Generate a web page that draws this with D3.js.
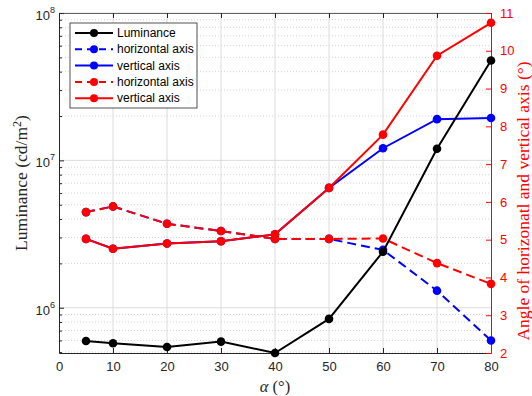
<!DOCTYPE html>
<html>
<head>
<meta charset="utf-8">
<script src="https://cdn.jsdelivr.net/npm/d3@7"></script>
<style>
  body { margin: 0; background: #fff; }
  text { font-family: "Liberation Sans", Arial, sans-serif; }
</style>
</head>
<body>
<script>
// data
const alpha = [5, 10, 20, 30, 40, 50, 60, 70, 80];
const luminance = [5.95e5, 5.74e5, 5.42e5, 5.89e5, 4.93e5, 8.4e5, 2.4e6, 1.2e7, 4.76e7];
const blueHorizontal = [5.73, 5.88, 5.42, 5.23, 5.02, 5.02, 4.73, 3.65, 2.33];
const blueVertical = [5.02, 4.76, 4.90, 4.96, 5.14, 6.37, 7.42, 8.19, 8.22];
const redHorizontal = [5.73, 5.88, 5.42, 5.23, 5.02, 5.02, 5.03, 4.38, 3.83];
const redVertical = [5.02, 4.76, 4.90, 4.96, 5.14, 6.37, 7.78, 9.87, 10.74];
const legendLabels = ["Luminance", "horizontal axis", "vertical axis", "horizontal axis", "vertical axis"];
const xTicks = [0, 10, 20, 30, 40, 50, 60, 70, 80];
const leftTicks = [1e6, 1e7, 1e8];
const rightTicks = [2, 3, 4, 5, 6, 7, 8, 9, 10, 11];

const canvWidth = 532, canvHeight = 396;
const margin = {top: 13, right: 41, bottom: 43, left: 59};
const width = canvWidth - margin.left - margin.right;
const height = canvHeight - margin.top - margin.bottom;
const axisColor = "#262626";

const svg = d3.select("body").append("svg")
    .attr("width", canvWidth)
    .attr("height", canvHeight);

const g = svg.append("g")
    .attr("transform", "translate(" + margin.left + "," + margin.top + ")");

// scales
const xScale = d3.scaleLinear().domain([0, 80]).range([0, width]);
const yLeft = d3.scaleLog().domain([4.93e5, 1e8]).range([height, 0]);
const yRight = d3.scaleLinear().domain([2, 11]).range([height, 0]);

// minor grid (log)
const minorTicks = [];
[1e5, 1e6, 1e7].forEach(dec => {
    for (let k = 2; k <= 9; k++) {
        const v = k * dec;
        if (v > yLeft.domain()[0] && v < 1e8) minorTicks.push(v);
    }
});
g.selectAll(".minor").data(minorTicks).enter().append("line")
    .attr("x1", 0).attr("x2", width)
    .attr("y1", d => yLeft(d)).attr("y2", d => yLeft(d))
    .attr("stroke", "#c8c8c8")
    .attr("stroke-width", 0.8)
    .attr("stroke-dasharray", "1,2");

// major grid
g.selectAll(".hgrid").data(leftTicks).enter().append("line")
    .attr("x1", 0).attr("x2", width)
    .attr("y1", d => yLeft(d)).attr("y2", d => yLeft(d))
    .attr("stroke", "#dcdcdc").attr("stroke-width", 1);
g.selectAll(".vgrid").data(xTicks.slice(1, -1)).enter().append("line")
    .attr("x1", d => xScale(d)).attr("x2", d => xScale(d))
    .attr("y1", 0).attr("y2", height)
    .attr("stroke", "#dcdcdc").attr("stroke-width", 1);

// axes (ticks inward like matlab)
const xAxis = g.append("g")
    .attr("transform", "translate(0," + height + ")")
    .call(d3.axisBottom(xScale).tickValues(xTicks).tickSizeInner(-5).tickSizeOuter(0).tickPadding(9));
xAxis.select(".domain").attr("stroke", axisColor);
xAxis.selectAll(".tick line").attr("stroke", axisColor);
xAxis.selectAll("text").attr("font-size", "13px").attr("fill", axisColor);

const xTop = g.append("g")
    .call(d3.axisTop(xScale).tickValues(xTicks).tickSizeInner(-5).tickSizeOuter(0).tickFormat(""));
xTop.select(".domain").attr("stroke", axisColor).attr("stroke-width", 0.7);
xTop.selectAll(".tick line").attr("stroke", axisColor);

const yAxisL = g.append("g")
    .call(d3.axisLeft(yLeft).tickValues(leftTicks.concat(minorTicks)).tickSizeInner(-3).tickSizeOuter(0).tickFormat(""));
yAxisL.select(".domain").attr("stroke", axisColor);
yAxisL.selectAll(".tick line").attr("stroke", axisColor)
    .attr("x2", d => leftTicks.includes(d) ? 5 : 3);

// 10^n labels
const leftLabels = g.selectAll(".llab").data(leftTicks).enter().append("text")
    .attr("x", -4)
    .attr("y", d => yLeft(d) + 7)
    .attr("text-anchor", "end")
    .attr("font-size", "13px")
    .attr("fill", axisColor);
leftLabels.append("tspan").text("10");
leftLabels.append("tspan")
    .attr("dy", "-7")
    .attr("font-size", "9px")
    .text(d => Math.round(Math.log10(d)));

const yAxisR = g.append("g")
    .attr("transform", "translate(" + width + ",0)")
    .call(d3.axisRight(yRight).tickValues(rightTicks).tickSizeInner(-5).tickSizeOuter(0).tickPadding(9));
yAxisR.select(".domain").attr("stroke", "#ff0000");
yAxisR.selectAll(".tick line").attr("stroke", "#ff0000");
yAxisR.selectAll("text").attr("font-size", "13px").attr("fill", "#ff0000");

// lines
const series = [
    {values: blueHorizontal, scale: yRight, color: "#0000ff", dash: "9,5"},
    {values: blueVertical, scale: yRight, color: "#0000ff", dash: null},
    {values: redHorizontal, scale: yRight, color: "#ff0000", dash: "9,5"},
    {values: redVertical, scale: yRight, color: "#ff0000", dash: null},
    {values: luminance, scale: yLeft, color: "#000000", dash: null}
];

series.forEach(s => {
    const pts = alpha.map((a, i) => [a, s.values[i]]);
    const line = d3.line().x(d => xScale(d[0])).y(d => s.scale(d[1]));
    g.append("path")
        .attr("d", line(pts))
        .attr("fill", "none")
        .attr("stroke", s.color)
        .attr("stroke-width", 2)
        .attr("stroke-dasharray", s.dash);
    g.append("g").selectAll("circle").data(pts).enter().append("circle")
        .attr("cx", d => xScale(d[0]))
        .attr("cy", d => s.scale(d[1]))
        .attr("r", 4.3)
        .attr("fill", s.color);
});

// legend
const legendStyle = [
    {color: "#000000", dash: null},
    {color: "#0000ff", dash: "7,5"},
    {color: "#0000ff", dash: null},
    {color: "#ff0000", dash: "7,5"},
    {color: "#ff0000", dash: null}
];
const legend = svg.append("g").attr("transform", "translate(70,23)");
legend.append("rect")
    .attr("width", 127).attr("height", 85)
    .attr("fill", "#fff")
    .attr("stroke", axisColor)
    .attr("stroke-width", 0.8);
legendLabels.forEach((lab, i) => {
    const y = 10 + i * 16.3;
    legend.append("line")
        .attr("x1", 5).attr("x2", 43)
        .attr("y1", y).attr("y2", y)
        .attr("stroke", legendStyle[i].color)
        .attr("stroke-width", 2)
        .attr("stroke-dasharray", legendStyle[i].dash);
    legend.append("circle")
        .attr("cx", 24).attr("cy", y).attr("r", 4)
        .attr("fill", legendStyle[i].color);
    legend.append("text")
        .attr("x", 47).attr("y", y + 4)
        .attr("font-size", "12px")
        .attr("fill", "#000")
        .text(lab);
});

// axis labels
svg.append("text")
    .attr("transform", "translate(21," + (margin.top + height / 2) + ") rotate(-90)")
    .attr("dy", "0.35em")
    .attr("text-anchor", "middle")
    .style("font-family", "'Liberation Serif', 'Times New Roman', serif")
    .attr("font-size", "17.5px")
    .attr("fill", axisColor)
    .html("Luminance (cd/m<tspan dy='-6' font-size='12px'>2</tspan><tspan dy='6'>)</tspan>");

svg.append("text")
    .attr("transform", "translate(523," + (margin.top + height / 2 + 18) + ") rotate(-90)")
    .attr("dy", "0.35em")
    .attr("text-anchor", "middle")
    .style("font-family", "'Liberation Serif', 'Times New Roman', serif")
    .attr("font-size", "17.5px")
    .attr("fill", "#ff0000")
    .text("Angle of horizonatl and vertical axis (°)");

svg.append("text")
    .attr("x", margin.left + width / 2)
    .attr("y", 392)
    .attr("text-anchor", "middle")
    .style("font-family", "'Liberation Serif', 'Times New Roman', serif")
    .attr("font-size", "16.5px")
    .attr("fill", axisColor)
    .html("<tspan font-style='italic'>α</tspan> (°)");
</script>
</body>
</html>
